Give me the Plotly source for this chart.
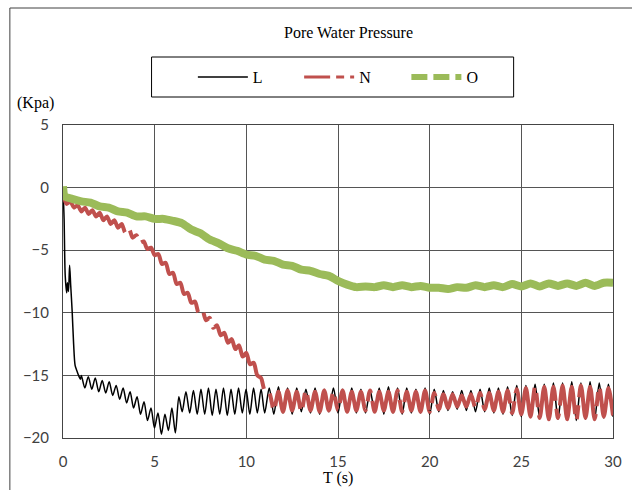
import numpy as np
import plotly.graph_objects as go

# ---------------- data ----------------
# L : black
L_t_start = [0.0, 0.06, 0.12, 0.20, 0.24, 0.30, 0.36, 0.42, 0.50, 0.58, 0.66, 0.75, 0.85, 0.95]
L_v_start = [0.0, -2.5, -7.0, -8.4, -7.6, -8.3, -6.2, -7.8, -9.9, -12.5, -14.2, -14.6, -15.0, -15.3]

L_v_a = [-15.0, -16.0, -15.1, -16.1, -15.2, -16.3, -15.4, -16.4, -15.5, -16.6,
         -15.8, -16.9, -16.0, -17.2, -16.3, -17.6, -16.7, -18.1, -17.1, -18.6,
         -17.6, -19.2, -18.0, -19.7, -18.1, -19.4, -17.6, -19.6, -16.7]
L_t_a0, L_dt_a = 1.0, 0.19

L_v_b = [-17.9, -16.3, -18.0, -16.2, -18.1, -16.1, -18.1, -16.0, -18.2, -16.1,
         -18.1, -16.0, -18.2, -16.1, -18.1, -16.0, -18.0, -16.1, -18.1, -16.0,
         -18.0, -16.1]
L_t_b0, L_dt_b = 6.5, 0.205

L_v_c = [-18.0, -16.0, -18.1, -15.9, -18.0, -16.0, -18.1, -16.0, -17.9, -16.1,
         -18.0, -16.0, -18.1, -16.1, -17.9, -16.0, -18.0, -16.1, -17.9, -16.0,
         -18.0, -16.1, -18.0, -16.2, -17.9, -16.0, -18.1, -15.9, -18.0, -16.0,
         -18.1, -16.0, -18.0, -16.1, -18.0, -16.0, -18.1, -16.1, -17.9, -16.2,
         -17.8, -16.3, -17.7, -16.2, -17.8, -16.2, -17.9, -16.1, -17.9, -16.0,
         -18.0, -16.0, -18.1, -15.9, -18.2, -15.8, -18.3, -15.8, -18.2, -15.7,
         -18.4, -15.7, -18.3, -15.6, -18.5, -15.6, -18.4, -15.5, -18.6, -15.6,
         -18.5, -15.5, -18.5, -15.6, -18.4, -15.7, -18.3]
L_t_c0, L_dt_c = 11.0, 0.25

# N : red
N_v_a = [-0.5, -1.3, -1.1, -1.6, -1.4, -1.9, -1.6, -2.1, -1.8, -2.3,
         -2.0, -2.6, -2.3, -2.9, -2.6, -3.2, -2.9, -3.6, -3.3, -4.0,
         -3.8, -4.4, -4.3, -4.9, -4.8, -5.4, -5.3, -6.1, -6.0, -6.9,
         -6.8, -7.7, -7.6, -8.5, -8.4, -9.2, -9.1, -10.0, -9.8, -10.6,
         -10.4, -11.2, -11.0, -11.8, -11.6, -12.4, -12.1, -12.9, -12.6, -13.5,
         -13.2, -14.1, -14.0, -15.0, -15.2, -16.2]
N_t_a0, N_dt_a = 0.0, 0.2

N_v_b = [-16.4, -17.8, -16.3, -17.9, -16.2, -17.8, -16.3, -17.9, -16.2, -17.8,
         -16.3, -17.9, -16.2, -17.8, -16.3, -17.8, -16.2, -17.9, -16.3, -17.8,
         -16.3, -17.8, -16.2, -17.9, -16.3, -17.8, -16.3, -17.9, -16.2, -17.9,
         -16.3, -17.8, -16.3, -17.9, -16.2, -17.9, -16.4, -17.7, -16.5, -17.6,
         -16.5, -17.5, -16.6, -17.5, -16.5, -17.6, -16.4, -17.7, -16.4, -17.8,
         -16.3, -17.9, -16.2, -18.0, -16.1, -18.1, -16.0, -18.3, -15.9, -18.4,
         -15.9, -18.5, -15.9, -18.4, -15.8, -18.5, -15.9, -18.6, -15.8, -18.4,
         -15.9, -18.5, -15.9, -18.3, -16.0, -18.2]
N_t_b0, N_dt_b = 11.25, 0.25

# O : green
O_t_start = [0.0, 0.1]
O_v_start = [0.1, -0.7]
O_v = [-0.9, -1.1, -1.2, -1.5, -1.6, -1.9, -2.0, -2.3, -2.3, -2.5,
       -2.5, -2.65, -2.85, -3.35, -3.65, -4.15, -4.45, -4.85, -5.05, -5.35,
       -5.45, -5.75, -5.85, -6.15, -6.25, -6.55, -6.65, -6.9, -7.05, -7.45,
       -7.75, -7.95, -7.9, -7.95, -7.8, -7.95, -7.8, -7.95, -7.85, -8.0,
       -8.0, -8.1, -7.95, -8.0, -7.8, -7.95, -7.8, -7.95, -7.7, -7.9,
       -7.65, -7.9, -7.65, -7.85, -7.65, -7.85, -7.6, -7.85, -7.6, -7.6]
O_t0, O_dt = 0.5, 0.5

x_ticks = [0, 5, 10, 15, 20, 25, 30]
y_ticks = [5, 0, -5, -10, -15, -20]


def grid(t0, dt, n):
    return list(np.round(t0 + dt * np.arange(n), 3))


L_t = L_t_start + grid(L_t_a0, L_dt_a, len(L_v_a)) + grid(L_t_b0, L_dt_b, len(L_v_b)) + grid(L_t_c0, L_dt_c, len(L_v_c))
L_v = L_v_start + L_v_a + L_v_b + L_v_c
N_t = grid(N_t_a0, N_dt_a, len(N_v_a)) + grid(N_t_b0, N_dt_b, len(N_v_b))
N_v = N_v_a + N_v_b
O_t = O_t_start + grid(O_t0, O_dt, len(O_v))
O_v = O_v_start + O_v

# ---------------- figure ----------------
W, H = 632, 490
ML, MR, MT, MB = 63, 10, 125, 52
PW, PH = W - ML - MR, H - MT - MB


def px(x):
    return (x - ML) / PW


def py(y):
    return (H - MB - y) / PH


RED = "#C0504D"
GREEN = "#9BBB59"
serif = "Liberation Serif, Times New Roman, serif"

fig = go.Figure()
fig.add_trace(go.Scatter(x=L_t, y=L_v, mode="lines", line=dict(color="black", width=1.5, shape="spline", smoothing=0.8),
                         showlegend=False, hoverinfo="skip"))
fig.add_trace(go.Scatter(x=N_t, y=N_v, mode="lines",
                         line=dict(color=RED, width=4, dash="115px,8px,14px,8px", shape="spline", smoothing=0.8),
                         showlegend=False, hoverinfo="skip"))
fig.add_trace(go.Scatter(x=O_t, y=O_v, mode="lines", line=dict(color=GREEN, width=8, shape="spline", smoothing=0.6),
                         showlegend=False, hoverinfo="skip"))
# legend entries
fig.add_trace(go.Scatter(x=[None], y=[None], mode="lines", name="L", legend="legend",
                         line=dict(color="black", width=1.5)))
fig.add_trace(go.Scatter(x=[None], y=[None], mode="lines", name="N", legend="legend2",
                         line=dict(color=RED, width=3, dash="26px,6px,8px,6px")))
fig.add_trace(go.Scatter(x=[None], y=[None], mode="lines", name="O", legend="legend3",
                         line=dict(color=GREEN, width=6, dash="16px,6px")))

leg_common = dict(orientation="h", xanchor="left", yanchor="middle", y=py(77),
                  bgcolor="rgba(0,0,0,0)", borderwidth=0, itemwidth=50,
                  font=dict(family=serif, size=16, color="black"))

fig.update_layout(
    width=W, height=H,
    margin=dict(l=ML, r=MR, t=MT, b=MB, pad=0),
    paper_bgcolor="white", plot_bgcolor="white",
    showlegend=True,
    legend=dict(x=px(195), **leg_common),
    legend2=dict(x=px(303), **leg_common),
    legend3=dict(x=px(412), **leg_common),
    xaxis=dict(range=[0, 30], tickvals=x_ticks, showgrid=True, gridcolor="#555555", gridwidth=1,
               zeroline=False, showline=True, linecolor="#444444", linewidth=1, mirror=True,
               ticks="", ticklabelstandoff=10,
               tickfont=dict(family="Lato, Carlito, sans-serif", size=15, color="#404040")),
    yaxis=dict(range=[-20, 5], tickvals=y_ticks, showgrid=True, gridcolor="#555555", gridwidth=1,
               zeroline=False, showline=True, linecolor="#444444", linewidth=1, mirror=True,
               ticks="", ticklabelstandoff=10,
               tickfont=dict(family="Lato, Carlito, sans-serif", size=15, color="#404040")),
    shapes=[
        dict(type="rect", xref="paper", yref="paper", x0=px(9), x1=px(660), y0=py(520), y1=py(8),
             line=dict(color="#404040", width=1), fillcolor="rgba(0,0,0,0)", layer="below"),
        dict(type="rect", xref="paper", yref="paper", x0=px(153), x1=px(521), y0=py(97), y1=py(57),
             line=dict(color="black", width=1), fillcolor="rgba(0,0,0,0)"),
    ],
    annotations=[
        dict(text="Pore Water Pressure", xref="paper", yref="paper", x=px(353), y=py(32),
             xanchor="center", yanchor="middle", showarrow=False,
             font=dict(family=serif, size=16, color="black")),
        dict(text="(Kpa)", xref="paper", yref="paper", x=px(35), y=py(103),
             xanchor="center", yanchor="middle", showarrow=False,
             font=dict(family=serif, size=16, color="black")),
        dict(text="T (s)", xref="paper", yref="paper", x=px(342), y=py(478),
             xanchor="center", yanchor="middle", showarrow=False,
             font=dict(family=serif, size=16, color="black")),
    ],
)

fig.write_html("out.html")
